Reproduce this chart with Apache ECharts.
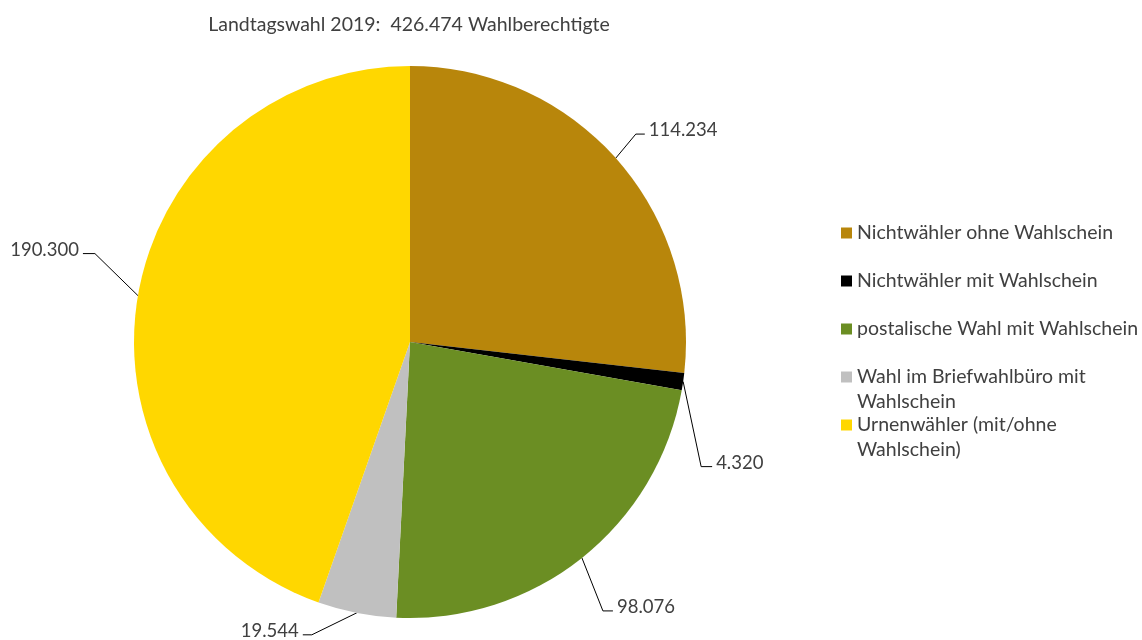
<!DOCTYPE html>
<html>
<head>
<meta charset="utf-8">
<script src="https://cdn.jsdelivr.net/npm/echarts@6/dist/echarts.min.js"></script>
<style>
  html, body { margin: 0; padding: 0; background: #fff; }
  #chart { width: 1142px; height: 640px; }
</style>
</head>
<body>
<div id="chart"></div>
<script>
// Daten
const categories = [
  'Nichtwähler ohne Wahlschein',
  'Nichtwähler mit Wahlschein',
  'postalische Wahl mit Wahlschein',
  'Wahl im Briefwahlbüro mit Wahlschein',
  'Urnenwähler (mit/ohne Wahlschein)'
];
const values = [114234, 4320, 98076, 19544, 190300];
const legendText = [
  'Nichtwähler ohne Wahlschein',
  'Nichtwähler mit Wahlschein',
  'postalische Wahl mit Wahlschein',
  'Wahl im Briefwahlbüro mit\nWahlschein',
  'Urnenwähler (mit/ohne\nWahlschein)'
];
const colors = ['#B8860B', '#000000', '#6B8E23', '#C0C0C0', '#FFD700'];

const FONT = 'Lato';
const TEXT = '#404040';
const CX = 410, CY = 342, R = 276;

// Führungslinien: Knick relativ zum Rand, dann waagrechtes Stück
const leader = [
  { v: [20, -24], h: 9 },
  { v: [18, 85], h: 11 },
  { v: [21, 53], h: 10 },
  { v: [-45, 22], h: 9 },
  { v: [-43, -42], h: 12 }
];

const total = values.reduce((a, b) => a + b, 0);
const fmt = v => String(v).replace(/\B(?=(\d{3})+(?!\d))/g, '.');

const chart = echarts.init(document.getElementById('chart'));

// eine Legende pro Eintrag, damit die Abstände wie im Original sind
// (zweizeilige Einträge bekommen eine leere Zeile davor -> Symbol auf Höhe der ersten Zeile)
const legendCenters = [233, 281, 329, 377, 425];
const LH = 25;
const legends = categories.map((name, i) => {
  const multi = legendText[i].indexOf('\n') >= 0;
  return {
    data: [name],
    left: 841,
    top: legendCenters[i] - (multi ? 1.5 * LH : 0.5 * LH),
    padding: 0,
    icon: 'rect',
    itemWidth: 11,
    itemHeight: 11,
    selectedMode: false,
    formatter: () => (multi ? ' \n' : '') + legendText[i],
    textStyle: {
      fontFamily: FONT,
      fontSize: 19.5,
      color: TEXT,
      lineHeight: LH
    }
  };
});

const option = {
  backgroundColor: '#fff',
  animation: false,
  title: {
    text: 'Landtagswahl 2019:  ' + fmt(total) + ' Wahlberechtigte',
    left: 409,
    textAlign: 'center',
    top: 15,
    padding: 0,
    textStyle: { fontFamily: FONT, fontSize: 19.5, fontWeight: 'normal', color: TEXT }
  },
  legend: legends,
  series: [{
    type: 'pie',
    center: [CX, CY],
    radius: R,
    startAngle: 90,
    clockwise: true,
    avoidLabelOverlap: false,
    data: categories.map((name, i) => ({
      name: name,
      value: values[i],
      itemStyle: { color: colors[i] }
    })),
    label: {
      show: true,
      position: 'outside',
      formatter: p => fmt(p.value),
      fontFamily: FONT,
      fontSize: 18.5,
      color: TEXT
    },
    labelLine: {
      show: true,
      lineStyle: { color: '#000', width: 1 }
    },
    labelLayout: function (params) {
      const i = params.dataIndex;
      let before = 0;
      for (let k = 0; k < i; k++) before += values[k];
      const a = (before + values[i] / 2) / total * Math.PI * 2;
      const p0 = [CX + R * Math.sin(a), CY - R * Math.cos(a)];
      const L = leader[i];
      const p1 = [p0[0] + L.v[0], p0[1] + L.v[1]];
      const right = L.v[0] > 0;
      const p2 = [p1[0] + (right ? L.h : -L.h), p1[1]];
      return {
        x: p2[0] + (right ? 4 : -4),
        y: p1[1] - 4,
        align: right ? 'left' : 'right',
        verticalAlign: 'middle',
        labelLinePoints: [p0, p1, p2]
      };
    }
  }]
};

chart.setOption(option);
</script>
</body>
</html>
